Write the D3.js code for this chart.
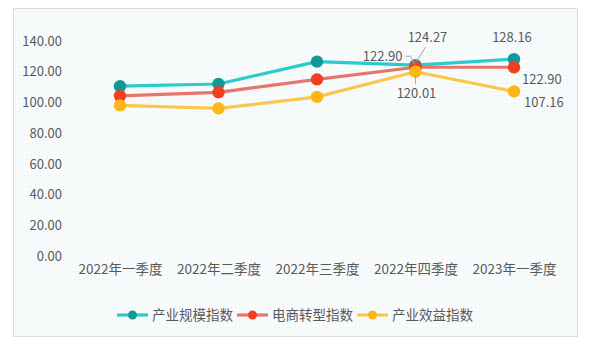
<!DOCTYPE html>
<html>
<head>
<meta charset="utf-8">
<script src="https://cdn.jsdelivr.net/npm/d3@7"></script>
<style>
  html, body { margin: 0; padding: 0; background: #ffffff; }
  svg { display: block; font-family: "Noto Sans CJK SC", "Noto Sans", sans-serif; }
</style>
</head>
<body>
<svg id="chart" width="590" height="348"></svg>
<script>
// Quarterly index data
const categories = ["2022年一季度", "2022年二季度", "2022年三季度", "2022年四季度", "2023年一季度"];
const seriesNames = ["产业规模指数", "电商转型指数", "产业效益指数"];
const scaleIndex = [110.6, 112.0, 126.6, 124.27, 128.16];
const ecommerceIndex = [104.3, 106.6, 115.0, 122.90, 122.90];
const benefitIndex = [98.1, 96.1, 103.6, 120.01, 107.16];
const yTicks = [0, 20, 40, 60, 80, 100, 120, 140];

const lineColors = ["#2acbca", "#e5756d", "#fcc64c"];
const dotColors = ["#11999a", "#f0401f", "#fdb61a"];

const svg = d3.select("#chart");

// Panel background with a faint grid texture
const defs = svg.append("defs");
const pat = defs.append("pattern")
  .attr("id", "grid").attr("width", 4).attr("height", 4)
  .attr("patternUnits", "userSpaceOnUse");
pat.append("rect").attr("width", 4).attr("height", 4).attr("fill", "#f9fcfd");
pat.append("path").attr("d", "M4 0V4M0 4H4").attr("stroke", "#eef4f6").attr("stroke-width", 1);

svg.append("rect")
  .attr("x", 13.5).attr("y", 8.5).attr("width", 564).attr("height", 328)
  .attr("fill", "url(#grid)").attr("stroke", "#d8dcdd").attr("stroke-width", 1);

const x = d3.scalePoint().domain(categories).range([120, 514]);
const y = d3.scaleLinear().domain([0, 140]).range([256, 41]);

// Y axis: labels only
const yAxis = d3.axisLeft(y).tickValues(yTicks).tickFormat(d3.format(".2f")).tickSize(0).tickPadding(0);
const gy = svg.append("g").attr("transform", "translate(62,0)").call(yAxis);
gy.select(".domain").remove();
gy.selectAll("text").attr("font-size", 13).attr("fill", "#595959").attr("font-family", "Noto Sans CJK SC");

// X axis: labels only
const xAxis = d3.axisBottom(x).tickSize(0).tickPadding(0);
const gx = svg.append("g").attr("transform", "translate(0,264)").call(xAxis);
gx.select(".domain").remove();
gx.selectAll("text").attr("font-size", 13.5).attr("fill", "#595959").attr("font-family", "Noto Sans CJK SC");

const allSeries = [scaleIndex, ecommerceIndex, benefitIndex];
const line = d3.line().x((d, i) => x(categories[i])).y(d => y(d));

allSeries.forEach((vals, s) => {
  svg.append("path").datum(vals)
    .attr("d", line).attr("fill", "none")
    .attr("stroke", lineColors[s]).attr("stroke-width", 3.2)
    .attr("stroke-linejoin", "round");
});
allSeries.forEach((vals, s) => {
  svg.append("g").selectAll("circle").data(vals).join("circle")
    .attr("cx", (d, i) => x(categories[i])).attr("cy", d => y(d))
    .attr("r", 6.2).attr("fill", dotColors[s]);
});

// Value labels on the last two quarters
const fmt = d3.format(".2f");
const labelStyle = sel => sel.attr("font-size", 13).attr("fill", "#595959").attr("font-family", "Noto Sans CJK SC");
const leader = "#a6a6a6";

// 2022 Q4
const x4 = x(categories[3]);
svg.append("path")
  .attr("d", `M${x4 + 1},${y(scaleIndex[3]) - 4} L${x4 + 10},${y(scaleIndex[3]) - 18}`)
  .attr("stroke", leader).attr("fill", "none").attr("stroke-width", 1);
svg.append("text").attr("x", x4 + 12).attr("y", 42).attr("text-anchor", "middle")
  .text(fmt(scaleIndex[3])).call(labelStyle);

svg.append("path")
  .attr("d", `M${x4 - 1},${y(ecommerceIndex[3]) - 3} L${x4 - 5},${y(ecommerceIndex[3]) - 11} L${x4 - 10},${y(ecommerceIndex[3]) - 11}`)
  .attr("stroke", leader).attr("fill", "none").attr("stroke-width", 1);
svg.append("text").attr("x", x4 - 13).attr("y", y(ecommerceIndex[3]) - 6).attr("text-anchor", "end")
  .text(fmt(ecommerceIndex[3])).call(labelStyle);

svg.append("path")
  .attr("d", `M${x4},${y(benefitIndex[3]) + 4} L${x4},${y(benefitIndex[3]) + 12}`)
  .attr("stroke", leader).attr("fill", "none").attr("stroke-width", 1);
svg.append("text").attr("x", x4 + 1).attr("y", y(benefitIndex[3]) + 26).attr("text-anchor", "middle")
  .text(fmt(benefitIndex[3])).call(labelStyle);

// 2023 Q1
const x5 = x(categories[4]);
svg.append("text").attr("x", x5 - 2).attr("y", y(scaleIndex[4]) - 17).attr("text-anchor", "middle")
  .text(fmt(scaleIndex[4])).call(labelStyle);
svg.append("text").attr("x", x5 + 8).attr("y", y(ecommerceIndex[4]) + 17).attr("text-anchor", "start")
  .text(fmt(ecommerceIndex[4])).call(labelStyle);
svg.append("text").attr("x", x5 + 10).attr("y", y(benefitIndex[4]) + 16).attr("text-anchor", "start")
  .text(fmt(benefitIndex[4])).call(labelStyle);

// Legend
const legendX = [117, 237, 357];
seriesNames.forEach((name, s) => {
  const g = svg.append("g").attr("transform", `translate(${legendX[s]},315)`);
  g.append("line").attr("x1", 0).attr("x2", 31).attr("y1", 0).attr("y2", 0)
    .attr("stroke", lineColors[s]).attr("stroke-width", 3.2);
  g.append("circle").attr("cx", 15.5).attr("cy", 0).attr("r", 4.5).attr("fill", dotColors[s]);
  g.append("text").attr("x", 35).attr("y", 5).attr("font-size", 13.5)
    .attr("fill", "#595959").attr("font-family", "Noto Sans CJK SC").text(name);
});
</script>
</body>
</html>
